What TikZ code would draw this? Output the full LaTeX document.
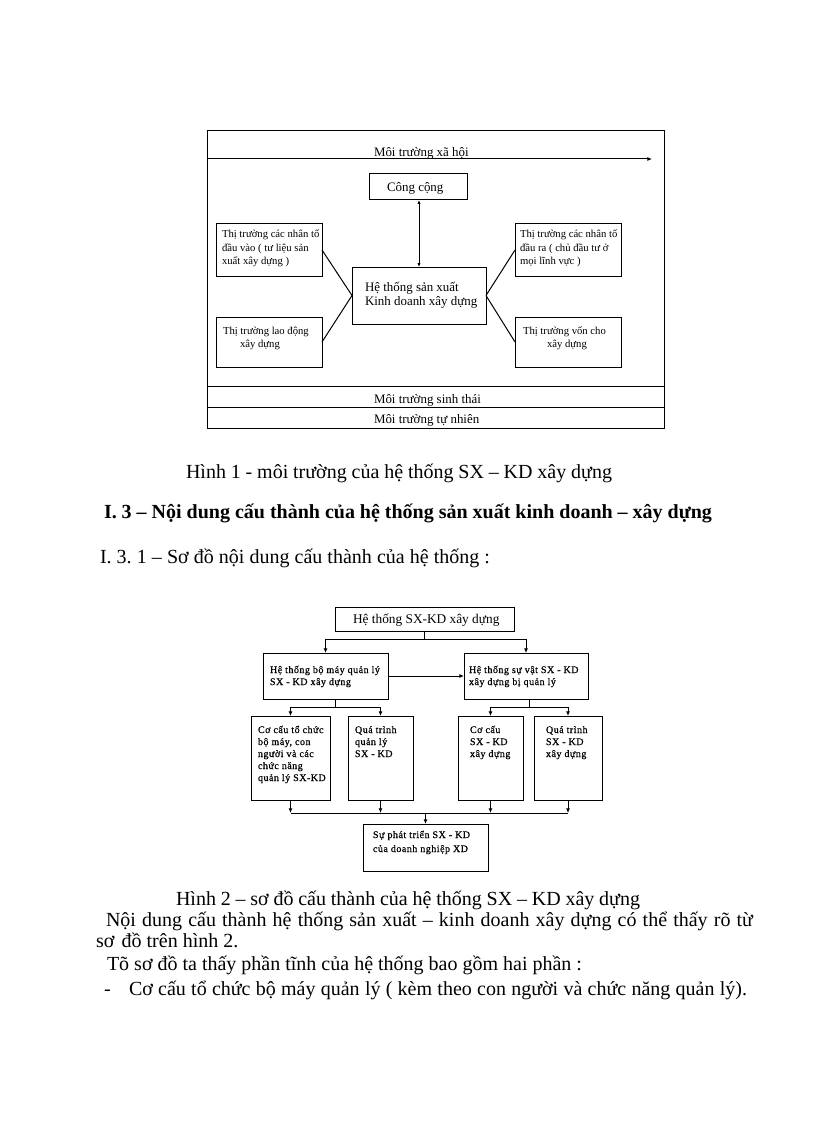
\documentclass[tikz,border=0pt]{standalone}
\usepackage{fontspec}
\setmainfont{Liberation Serif}
\newfontfamily\lsfont[LetterSpace=5,FakeBold=0.6]{Liberation Serif}
\usetikzlibrary{arrows.meta,calc}
\frenchspacing
\newcommand\fsz[1]{\fontsize{#1}{#1}\selectfont}
\newcommand\bx[5]{\node[box, minimum width={(#4-#2)*0.75pt}, minimum height={(#5-#3)*0.75pt}] (#1) at (#2,#3) {};}
\newcommand\tx[4]{\node[lbl] (#1) at (#2,#3) {#4};}
\begin{document}
\begin{tikzpicture}[x=0.75pt,y=-0.75pt,
  box/.style={draw, line width=0.75pt, inner sep=0pt, outer sep=0pt, anchor=north west},
  lbl/.style={inner sep=0pt, outer sep=0pt, anchor=base west},
  conn/.style={line width=0.75pt},
  tip/.style={-{Latex[length=3.5pt,width=3pt]}},
  dtip/.style={{Latex[length=3pt,width=2.5pt]}-{Latex[length=3pt,width=2.5pt]}},
  ]
\useasboundingbox[fill=white] (0,0) rectangle (816,1123);
% ---------- Figure 1 ----------
\bx{frame}{207}{131}{664}{428}
\bx{eco}{207}{386}{664}{407}
\bx{nat}{207}{407}{664}{428}
\coordinate (xaend) at (652,159);
\draw[conn,tip] (frame.west |- xaend) -- (xaend);
\tx{xht}{374}{157}{\fsz{9.7}Môi trường xã hội}
\tx{ecot}{374}{403}{\fsz{9.7}Môi trường sinh thái}
\tx{natt}{374}{423}{\fsz{9.7}Môi trường tự nhiên}
\bx{cc}{369}{174}{467}{200}
\tx{cct}{387}{192}{\fsz{9.7}Công cộng}
\bx{sys}{352}{267}{486}{324}
\tx{sys1}{365}{291}{\fsz{9.7}Hệ thống sản xuất}
\tx{sys2}{365}{305}{\fsz{9.7}Kinh doanh xây dựng}
\bx{lt}{216}{224}{322}{276}
\tx{lt1}{222}{238}{\fsz{8}Thị trường các nhân tố}
\tx{lt2}{222}{251}{\fsz{8}đầu vào ( tư liệu sản}
\tx{lt3}{222}{264}{\fsz{8}xuất xây dựng )}
\bx{rt}{515}{224}{621}{276}
\tx{rt1}{520}{238}{\fsz{8}Thị trường các nhân tố}
\tx{rt2}{520}{251}{\fsz{8}đầu ra ( chủ đầu tư ở}
\tx{rt3}{520}{264}{\fsz{8}mọi lĩnh vực )}
\bx{lb}{216}{317}{322}{367}
\tx{lb1}{223}{334}{\fsz{8}Thị trường lao động}
\tx{lb2}{240}{347}{\fsz{8}xây dựng}
\bx{rb}{515}{317}{621}{367}
\tx{rb1}{523}{334}{\fsz{8}Thị trường vốn cho}
\tx{rb2}{547}{347}{\fsz{8}xây dựng}
\draw[conn,dtip] (sys.north) -- (sys.north |- cc.south);
\draw[conn] (lt.east) -- (sys.west);
\draw[conn] (lb.east) -- (sys.west);
\draw[conn] (rt.west) -- (sys.east);
\draw[conn] (rb.west) -- (sys.east);
% ---------- Text ----------
\tx{cap1}{186}{478}{\fsz{15}\makebox[319.5pt][s]{Hình 1 - môi trường của hệ thống SX – KD xây dựng}}
\tx{head}{104}{518}{\fsz{15}\bfseries\makebox[456pt][s]{I. 3 – Nội dung cấu thành của hệ thống sản xuất kinh doanh – xây dựng}}
\tx{sub}{100}{563}{\fsz{15}\makebox[292.5pt][s]{I. 3. 1 – Sơ đồ nội dung cấu thành của hệ thống :}}
% ---------- Figure 2 ----------
\bx{top}{335}{607}{514}{631}
\tx{topt}{353}{623}{\fsz{10}Hệ thống SX-KD xây dựng}
\bx{m1}{263}{653}{388}{699}
\tx{m1a}{270}{673}{\fsz{7.5}\lsfont Hệ thống bộ máy quản lý}
\tx{m1b}{270}{685}{\fsz{7.5}\lsfont SX - KD xây dựng}
\bx{m2}{464}{653}{588}{699}
\tx{m2a}{469}{673}{\fsz{7.5}\lsfont Hệ thống sự vật SX - KD}
\tx{m2b}{469}{685}{\fsz{7.5}\lsfont xây dựng bị quản lý}
\bx{b1}{251}{716}{330}{800}
\tx{b1a}{258}{733}{\fsz{7.5}\lsfont Cơ cấu tổ chức}
\tx{b1b}{258}{745}{\fsz{7.5}\lsfont bộ máy, con}
\tx{b1c}{258}{757}{\fsz{7.5}\lsfont người và các}
\tx{b1d}{258}{769}{\fsz{7.5}\lsfont chức năng}
\tx{b1e}{258}{781}{\fsz{7.5}\lsfont quản lý SX-KD}
\bx{b2}{348}{716}{413}{800}
\tx{b2a}{355}{733}{\fsz{7.5}\lsfont Quá trình}
\tx{b2b}{355}{745}{\fsz{7.5}\lsfont quản lý}
\tx{b2c}{355}{757}{\fsz{7.5}\lsfont SX - KD}
\bx{b3}{458}{716}{523}{800}
\tx{b3a}{470}{733}{\fsz{7.5}\lsfont Cơ cấu}
\tx{b3b}{470}{745}{\fsz{7.5}\lsfont SX - KD}
\tx{b3c}{470}{757}{\fsz{7.5}\lsfont xây dựng}
\bx{b4}{534}{716}{602}{800}
\tx{b4a}{546}{733}{\fsz{7.5}\lsfont Quá trình}
\tx{b4b}{546}{745}{\fsz{7.5}\lsfont SX - KD}
\tx{b4c}{546}{757}{\fsz{7.5}\lsfont xây dựng}
\bx{fin}{363}{824}{488}{871}
\tx{fina}{373}{838}{\fsz{7.5}\lsfont Sự phát triển SX - KD}
\tx{finb}{373}{852}{\fsz{7.5}\lsfont của doanh nghiệp XD}
% connectors
\coordinate (j1) at ($(top.south)+(0,8)$);
\draw[conn] (top.south) -- (j1);
\draw[conn,tip] (j1) -| (m1.north);
\draw[conn,tip] (j1) -| (m2.north);
\draw[conn,tip] (m1.east) -- (m2.west);
\coordinate (j2) at (335,707);
\draw[conn] (j2 |- m1.south) -- (j2);
\draw[conn,tip] (j2) -| (b1.north);
\draw[conn,tip] (j2) -| (b2.north);
\coordinate (j3) at (529,707);
\draw[conn] (j3 |- m2.south) -- (j3);
\draw[conn,tip] (j3) -| (b3.north);
\draw[conn,tip] (j3) -| (b4.north);
\coordinate (j4) at ($(fin.north)+(0,-11)$);
\draw[conn] (b1.south |- j4) -- (b4.south |- j4);
\draw[conn,tip] (b1.south) -- (b1.south |- j4);
\draw[conn,tip] (b2.south) -- (b2.south |- j4);
\draw[conn,tip] (b3.south) -- (b3.south |- j4);
\draw[conn,tip] (b4.south) -- (b4.south |- j4);
\draw[conn,tip] (j4) -- (fin.north);
% ---------- Text ----------
\tx{cap2}{176}{905}{\fsz{15}\makebox[348pt][s]{Hình 2 – sơ đồ cấu thành của hệ thống SX – KD xây dựng}}
\tx{p1}{106}{926}{\fsz{15}\makebox[485.25pt][s]{Nội dung cấu thành hệ thống sản xuất – kinh doanh xây dựng có thể thấy rõ từ}}
\tx{p2}{96}{947}{\fsz{15}sơ\hspace{5.5pt}đồ trên hình 2.}
\tx{p3}{107}{970}{\fsz{15}\makebox[356.25pt][s]{Tõ sơ đồ ta thấy phần tĩnh của hệ thống bao gồm hai phần :}}
\tx{p4d}{104}{995}{\fsz{15}-}
\tx{p4}{129}{995}{\fsz{15}\makebox[463.5pt][s]{Cơ cấu tổ chức bộ máy quản lý ( kèm theo con người và chức năng quản lý).}}
\end{tikzpicture}
\end{document}
